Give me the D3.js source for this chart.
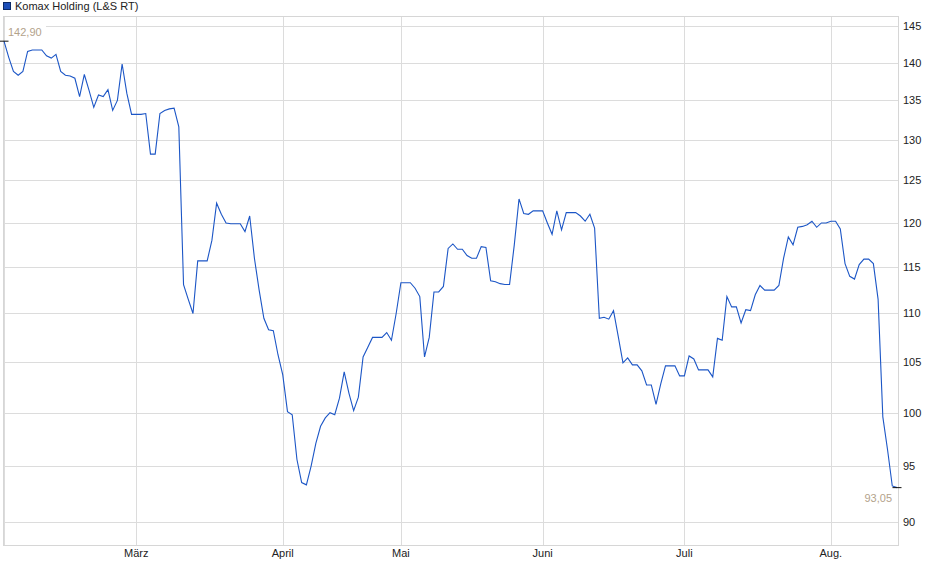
<!DOCTYPE html>
<html>
<head>
<meta charset="utf-8">
<script src="https://cdnjs.cloudflare.com/ajax/libs/d3/7.8.5/d3.min.js"></script>
<style>
  body { margin: 0; background: #fff; }
  svg { display: block; font-family: "Liberation Sans", Arial, sans-serif; }
</style>
</head>
<body>
<script>
// Komax Holding (L&S RT), one value per day slot, Feb - mid Aug
const prices = [
    142.9, 140.7, 138.8, 138.3, 138.8, 141.5, 141.7, 141.7, 141.7, 140.9,
    140.6, 141.1, 138.8, 138.3, 138.2, 137.9, 135.5, 138.4, 136.3, 134.1,
    135.7, 135.5, 136.4, 133.7, 135.0, 139.8, 135.9, 133.2, 133.2, 133.2,
    133.3, 128.2, 128.2, 133.3, 133.7, 133.9, 134.0, 131.6, 113.1, 111.5,
    110.0, 115.7, 115.7, 115.7, 118.0, 122.3, 121.0, 120.0, 119.9, 119.9,
    119.9, 119.0, 120.8, 116.0, 112.5, 109.5, 108.3, 108.2, 105.7, 103.7,
    100.1, 99.8, 95.6, 93.5, 93.3, 95.0, 97.1, 98.7, 99.5, 100.0,
    99.8, 101.4, 104.0, 101.9, 100.2, 101.5, 105.5, 106.5, 107.5, 107.5,
    107.5, 108.0, 107.2, 110.0, 113.3, 113.3, 113.3, 112.7, 111.8, 105.5,
    107.5, 112.3, 112.3, 112.9, 117.1, 117.6, 117.0, 117.0, 116.3, 116.0,
    116.0, 117.3, 117.2, 113.5, 113.4, 113.2, 113.1, 113.1, 117.5, 122.8,
    121.1, 121.0, 121.4, 121.4, 121.4, 120.0, 118.7, 121.4, 119.2, 121.2,
    121.2, 121.2, 120.8, 120.2, 121.0, 119.4, 109.5, 109.6, 109.4, 110.3,
    107.6, 104.9, 105.4, 104.7, 104.7, 104.1, 102.7, 102.7, 100.8, 102.8,
    104.6, 104.6, 104.6, 103.6, 103.6, 105.6, 105.3, 104.2, 104.2, 104.2,
    103.5, 107.4, 107.2, 111.8, 110.7, 110.7, 109.0, 110.4, 110.3, 112.0,
    113.0, 112.5, 112.5, 112.5, 113.0, 116.0, 118.4, 117.5, 119.5, 119.6,
    119.8, 120.2, 119.5, 120.0, 120.0, 120.2, 120.2, 119.3, 115.4, 114.0,
    113.7, 115.3, 115.9, 115.9, 115.4, 111.5, 99.6, 96.5, 93.2, 93.05
];

// month starts (slot index) and their labels
const monthSlots = [0, 28, 59, 84, 114, 144, 175];
const monthLabels = ["", "März", "April", "Mai", "Juni", "Juli", "Aug."];

const yTicks = [90, 95, 100, 105, 110, 115, 120, 125, 130, 135, 140, 145];
const yDomain = [88.06, 146.4];

const seriesName = "Komax Holding (L&S RT)";

const width = 940, height = 579;
const plot = { left: 3, right: 898, top: 16, bottom: 545 };

const de = d3.formatLocale({ decimal: ",", thousands: ".", grouping: [3], currency: ["", " €"] });
const fmt = de.format(".2f");

const svg = d3
    .select("body")
    .append("svg")
    .attr("width", width)
    .attr("height", height);

const x = d3.scaleLinear()
    .domain([0, prices.length - 1])
    .range([plot.left + 1, plot.right - 1]);

const y = d3.scaleLog()
    .domain(yDomain)
    .range([plot.bottom, plot.top]);

// legend / title
svg.append("rect")
    .attr("x", 3.5)
    .attr("y", 2.5)
    .attr("width", 7)
    .attr("height", 7)
    .attr("fill", "#1d4fb8")
    .attr("stroke", "#0d2a66");

svg.append("text")
    .attr("x", 15)
    .attr("y", 10)
    .attr("font-size", "11px")
    .attr("fill", "#222")
    .text(seriesName);

// grid
const grid = svg.append("g").attr("shape-rendering", "crispEdges");

grid.selectAll("line.h")
    .data(yTicks)
    .join("line")
    .attr("class", "h")
    .attr("x1", plot.left)
    .attr("x2", plot.right)
    .attr("y1", d => Math.round(y(d)) + 0.5)
    .attr("y2", d => Math.round(y(d)) + 0.5)
    .attr("stroke", "#dcdcdc");

grid.selectAll("line.v")
    .data(monthSlots)
    .join("line")
    .attr("class", "v")
    .attr("x1", d => Math.round(x(d)) + 0.5)
    .attr("x2", d => Math.round(x(d)) + 0.5)
    .attr("y1", plot.top)
    .attr("y2", plot.bottom)
    .attr("stroke", "#dcdcdc");

grid.append("rect")
    .attr("x", plot.left + 0.5)
    .attr("y", plot.top + 0.5)
    .attr("width", plot.right - plot.left)
    .attr("height", plot.bottom - plot.top)
    .attr("fill", "none")
    .attr("stroke", "#d6d6d6");

// y axis labels on the right
svg.append("g")
    .selectAll("text")
    .data(yTicks)
    .join("text")
    .attr("x", plot.right + 5)
    .attr("y", d => y(d) + 4)
    .attr("font-size", "11px")
    .attr("fill", "#222")
    .text(d => d);

// month labels
svg.append("g")
    .selectAll("text")
    .data(monthSlots)
    .join("text")
    .attr("x", d => x(d))
    .attr("y", 557)
    .attr("text-anchor", "middle")
    .attr("font-size", "11px")
    .attr("fill", "#222")
    .text((d, i) => monthLabels[i]);

// price line
const line = d3.line()
    .x((d, i) => x(i))
    .y(d => y(d));

svg.append("path")
    .datum(prices)
    .attr("d", line)
    .attr("fill", "none")
    .attr("stroke", "#1c56c6")
    .attr("stroke-width", 1.1);

// first / last markers
const first = prices[0], last = prices[prices.length - 1];

svg.append("rect")
    .attr("x", plot.left + 2)
    .attr("y", 26)
    .attr("width", 41)
    .attr("height", 12)
    .attr("fill", "#fff");

svg.append("text")
    .attr("x", plot.left + 5)
    .attr("y", 36)
    .attr("font-size", "11px")
    .attr("fill", "#b3a28b")
    .text(fmt(first));

svg.append("text")
    .attr("x", x(prices.length - 1) - 5)
    .attr("y", y(last) + 14)
    .attr("text-anchor", "end")
    .attr("font-size", "11px")
    .attr("fill", "#b3a28b")
    .text(fmt(last));

svg.selectAll("line.mark")
    .data([0, prices.length - 1])
    .join("line")
    .attr("class", "mark")
    .attr("x1", d => x(d) - 4.5)
    .attr("x2", d => x(d) + 4.5)
    .attr("y1", d => y(prices[d]))
    .attr("y2", d => y(prices[d]))
    .attr("stroke", "#111")
    .attr("stroke-width", 1);
</script>
</body>
</html>
